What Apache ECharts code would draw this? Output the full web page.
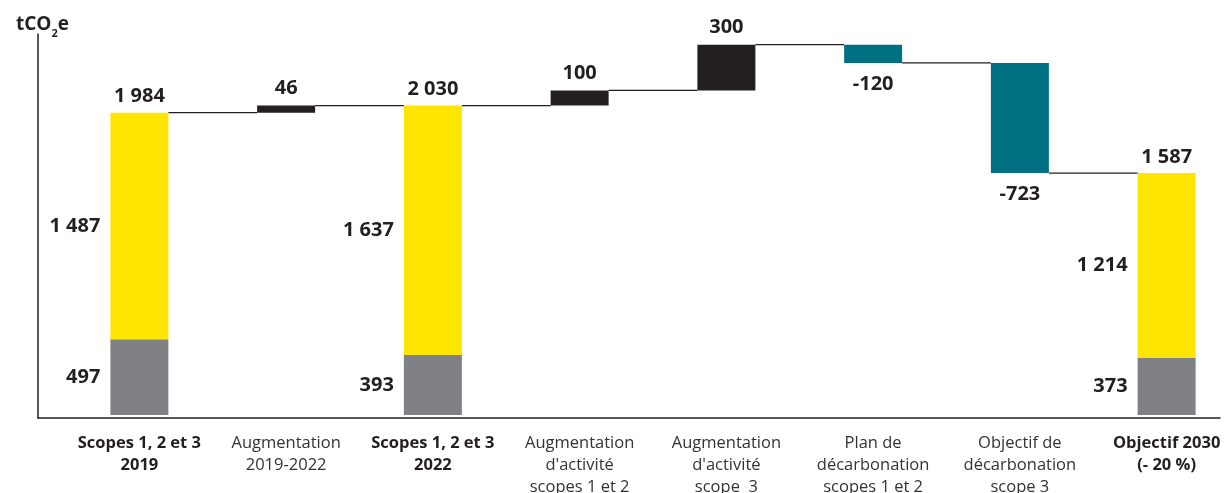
<!DOCTYPE html>
<html>
<head>
<meta charset="utf-8">
<script src="https://cdn.jsdelivr.net/npm/echarts@6/dist/echarts.min.js"></script>
<style>
  html, body { margin: 0; padding: 0; background: #fff; }
  #chart { width: 1224px; height: 493px; }
</style>
</head>
<body>
<div id="chart"></div>
<script>
  // données (tCO2e)
  const categories = [
    'Scopes 1, 2 et 3\n2019',
    'Augmentation\n2019-2022',
    'Scopes 1, 2 et 3\n2022',
    "Augmentation\nd'activité\nscopes 1 et 2",
    "Augmentation\nd'activité\nscope  3",
    'Plan de\ndécarbonation\nscopes 1 et 2',
    'Objectif de\ndécarbonation\nscope 3',
    'Objectif 2030\n(- 20 %)'
  ]
  const scopes12 = [497, null, 393, null, null, null, null, 373]
  const scope3 = [1487, null, 1637, null, null, null, null, 1214]
  const changes = [null, 46, null, 100, 300, -120, -723, null]

  const ink = '#231f20'
  const font = 'Open Sans'
  const fmt = v => String(Math.abs(v)).replace(/\B(?=(\d{3})+(?!\d))/g, ' ')

  // construction de la cascade
  let level = 0
  const base = [], grey = [], yellow = [], up = [], down = [], tops = [], steps = []
  categories.forEach((c, i) => {
    if (scopes12[i] != null) {
      level = scopes12[i] + scope3[i]
      base.push('-'); grey.push(scopes12[i]); yellow.push(scope3[i])
      up.push('-'); down.push('-'); tops.push(0)
    } else {
      const d = changes[i]
      base.push(d > 0 ? level : level + d)
      grey.push('-'); yellow.push('-')
      up.push(d > 0 ? d : '-'); down.push(d < 0 ? -d : '-'); tops.push('-')
      level += d
    }
    if (i < categories.length - 1) steps.push([i, level])
  })
  const totalOf = i => scopes12[i] + scope3[i]

  const bold = { fontFamily: font, fontWeight: 'bold', fontSize: 20, color: ink }

  const chart = echarts.init(document.getElementById('chart'))
  chart.setOption({
    animation: false,
    title: {
      text: 'tCO{s|2}e',
      left: 11, top: 6,
      textStyle: {
        fontFamily: font, fontWeight: 'bold', fontSize: 19, color: ink, lineHeight: 28,
        rich: { s: { fontFamily: font, fontWeight: 'bold', fontSize: 11, color: ink, lineHeight: 28, verticalAlign: 'bottom' } }
      }
    },
    grid: [
      { left: 38, right: 4, top: 34, bottom: 75, outerBoundsMode: 'none' },
      { left: 66, right: -16, top: 34, bottom: 75, outerBoundsMode: 'none' }
    ],
    xAxis: [
      {
        type: 'value', gridIndex: 0, min: 0, max: 1,
        axisLine: { show: true, onZero: false, lineStyle: { color: ink, width: 1.5 } },
        axisTick: { show: false }, axisLabel: { show: false }, splitLine: { show: false }
      },
      {
        type: 'category', gridIndex: 1, data: categories,
        axisLine: { show: false }, axisTick: { show: false },
        axisLabel: {
          interval: 0, margin: 14,
          formatter: (v, i) => {
            const tag = [0, 2, 7].includes(i) ? 'b' : 'n'
            return v.split('\n').map(l => '{' + tag + '|' + l + '}').join('\n')
          },
          rich: {
            b: { fontFamily: font, fontWeight: 'bold', fontSize: 16.5, color: ink, lineHeight: 22 },
            n: { fontFamily: font, fontSize: 16.5, color: '#333', lineHeight: 22 }
          }
        }
      }
    ],
    yAxis: [
      {
        type: 'value', gridIndex: 0, min: -20, max: 2500,
        axisLine: { show: true, onZero: false, lineStyle: { color: ink, width: 1.5 } },
        axisTick: { show: false }, axisLabel: { show: false }, splitLine: { show: false }
      },
      { type: 'value', gridIndex: 1, min: -20, max: 2500, show: false }
    ],
    series: [
      {
        type: 'bar', xAxisIndex: 1, yAxisIndex: 1, stack: 'w', barWidth: 58,
        itemStyle: { color: 'transparent' }, silent: true, data: base
      },
      {
        name: 'Scopes 1 et 2', type: 'bar', xAxisIndex: 1, yAxisIndex: 1, stack: 'w', barWidth: 58,
        itemStyle: { color: '#808184' },
        label: { show: true, position: 'left', distance: 10, ...bold, formatter: p => fmt(p.value) },
        data: grey
      },
      {
        name: 'Scope 3', type: 'bar', xAxisIndex: 1, yAxisIndex: 1, stack: 'w', barWidth: 58,
        itemStyle: { color: '#ffe500' },
        label: { show: true, position: 'left', distance: 10, ...bold, formatter: p => fmt(p.value) },
        data: yellow
      },
      {
        name: 'Total', type: 'bar', xAxisIndex: 1, yAxisIndex: 1, stack: 'w', barWidth: 58,
        itemStyle: { color: 'transparent' }, silent: true,
        label: { show: true, position: 'top', distance: 6, ...bold, formatter: p => fmt(totalOf(p.dataIndex)) },
        data: tops
      },
      {
        name: 'Hausse', type: 'bar', xAxisIndex: 1, yAxisIndex: 1, stack: 'w', barWidth: 58,
        itemStyle: { color: ink },
        label: { show: true, position: 'top', distance: 7, ...bold, formatter: p => fmt(p.value) },
        data: up
      },
      {
        name: 'Baisse', type: 'bar', xAxisIndex: 1, yAxisIndex: 1, stack: 'w', barWidth: 58,
        itemStyle: { color: '#007083' },
        label: { show: true, position: 'bottom', distance: 11, ...bold, formatter: p => '-' + fmt(p.value) },
        data: down
      },
      {
        type: 'custom', xAxisIndex: 1, yAxisIndex: 1, silent: true,
        renderItem: (params, api) => {
          const a = api.coord([api.value(0), api.value(1)])
          const b = api.coord([api.value(0) + 1, api.value(1)])
          return {
            type: 'line',
            shape: { x1: a[0] + 29, y1: a[1], x2: b[0] - 29, y2: b[1] },
            style: { stroke: ink, lineWidth: 1.2 }
          }
        },
        data: steps
      }
    ]
  })
</script>
</body>
</html>
